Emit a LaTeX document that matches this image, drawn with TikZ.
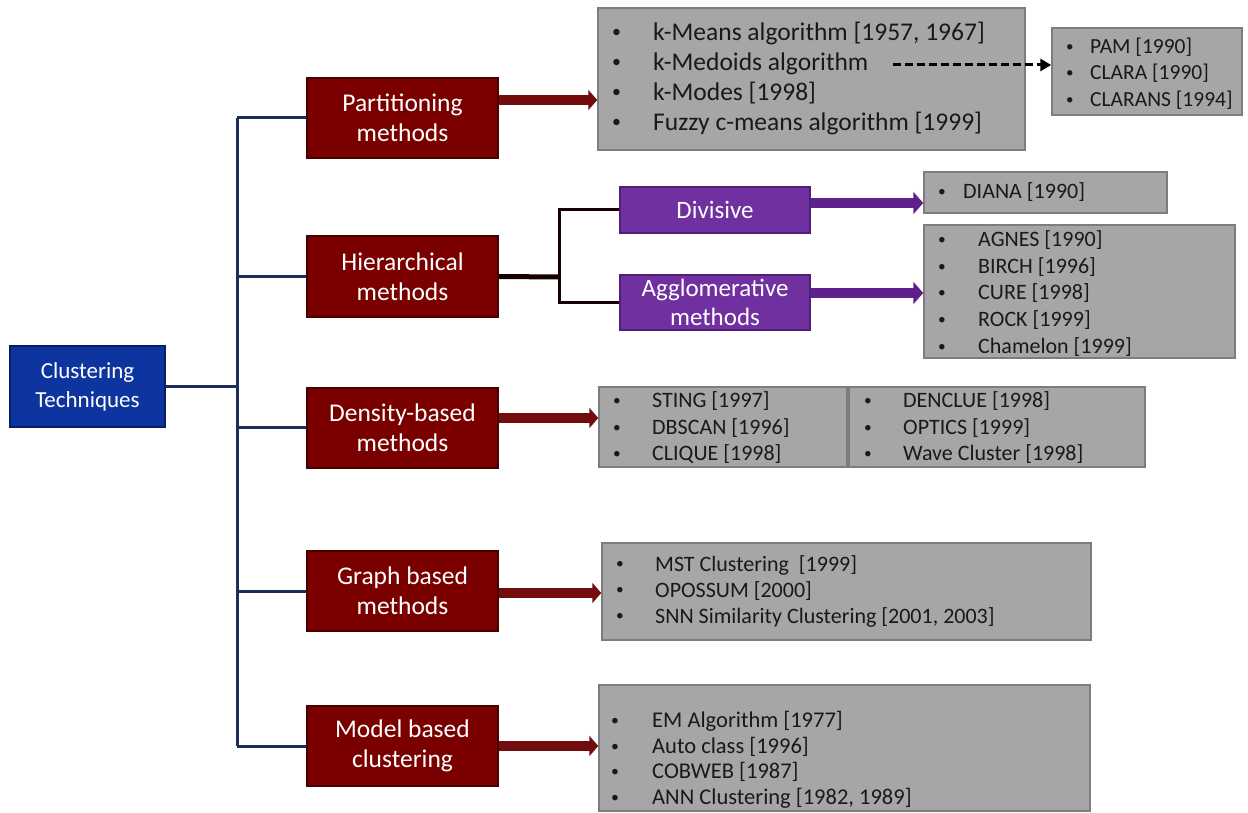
\documentclass[tikz,border=0pt]{standalone}
\usepackage{fontspec}
\setmainfont{Carlito}
\usepackage{tikz}
\usepackage{xcolor}
\usetikzlibrary{arrows.meta}

\definecolor{techblue}{RGB}{14,52,160}
\definecolor{techedge}{RGB}{10,30,100}
\definecolor{methodred}{RGB}{122,0,0}
\definecolor{methodedge}{RGB}{70,0,0}
\definecolor{subpurple}{RGB}{112,48,160}
\definecolor{subedge}{RGB}{80,30,120}
\definecolor{listgray}{RGB}{166,166,166}
\definecolor{listedge}{RGB}{125,125,125}
\definecolor{trunknavy}{RGB}{30,45,90}
\definecolor{arrowred}{RGB}{115,12,12}
\definecolor{arrowpurple}{RGB}{96,32,140}

\newcommand{\itm}[2]{\makebox[#1pt][l]{\raisebox{0.1em}{\scalebox{0.7}{\textbullet}}}#2}

\tikzset{
  techbox/.style={draw=techedge, fill=techblue, text=white, line width=2,
    minimum width=155, minimum height=81, align=center, inner sep=0,
    font=\fontsize{23}{29}\selectfont},
  methodbox/.style={draw=methodedge, fill=methodred, text=white, line width=2,
    minimum width=191, minimum height=80, align=center, inner sep=0,
    font=\fontsize{25.5}{30}\selectfont},
  subbox/.style={draw=subedge, fill=subpurple, text=white, line width=1.5,
    minimum width=190, align=center, inner sep=0,
    font=\fontsize{25}{29}\selectfont},
  graybox/.style={draw=listedge, fill=listgray, line width=1.5, inner sep=0},
  listtext/.style={anchor=west, align=left, inner sep=0, text=black!90},
  trunkline/.style={draw=trunknavy, line width=3},
  splitline/.style={draw=black!80!methodred, line width=3},
  redarrow/.style={draw=arrowred, line width=10, -{Triangle[length=9pt,width=20pt]}},
  purplearrow/.style={draw=arrowpurple, line width=10, -{Triangle[length=10pt,width=22pt]}},
  dasharrow/.style={draw=black, line width=3, dash pattern=on 8pt off 4pt,
    -{Triangle[length=11pt,width=12pt]}}
}

\begin{document}
\begin{tikzpicture}[x=1pt,y=-1pt]
  \useasboundingbox (0,0) rectangle (1248,813);

  % root and method boxes
  \node[techbox] (tech) at (87.5,386.5) {Clustering\\Techniques};
  \node[methodbox] (part) at (402.5,118) {Partitioning\\methods};
  \node[methodbox] (hier) at (402.5,276.5) {Hierarchical\\methods};
  \node[methodbox] (dens) at (402.5,427.5) {Density-based\\methods};
  \node[methodbox] (graph) at (402.5,591) {Graph based\\methods};
  \node[methodbox] (model) at (402.5,746) {Model based\\clustering};

  % trunk
  \coordinate (trunktop) at (237,118);
  \coordinate (trunkbot) at (237,746);
  \draw[trunkline] (trunktop) -- (trunkbot);
  \draw[trunkline] (tech.east) -- (tech.east -| trunktop);
  \foreach \m in {part,hier,dens,graph,model}
    \draw[trunkline] (\m.west) -- (\m.west -| trunktop);

  % partitioning
  \node[graybox, minimum width=427, minimum height=142] (partbox) at (811.5,79) {};
  \node[listtext, font=\fontsize{25.5}{30}\selectfont] (partlist) at (612,78)
    {\itm{41}{k-Means algorithm [1957, 1967]}\\
     \itm{41}{k-Medoids algorithm}\\
     \itm{41}{k-Modes [1998]}\\
     \itm{41}{Fuzzy c-means algorithm [1999]}};
  \node[graybox, minimum width=190, minimum height=87] (pambox) at (1147,71.5) {};
  \node[listtext, font=\fontsize{21.5}{26.5}\selectfont] (pamlist) at (1066,73.5)
    {\itm{24}{PAM [1990]}\\
     \itm{24}{CLARA [1990]}\\
     \itm{24}{CLARANS [1994]}};
  \draw[redarrow] ([yshift=18pt]part.east) -- ([yshift=18pt]part.east -| partbox.west);
  \coordinate (medoidsend) at (893,65);
  \draw[dasharrow] (medoidsend) -- (medoidsend -| pambox.west);

  % hierarchical
  \node[subbox, minimum height=46] (divisive) at (715,210) {Divisive};
  \node[subbox, minimum height=55] (agglo) at (715,302.5) {Agglomerative\\methods};
  \coordinate (split) at (559,277);
  \draw[splitline, line width=5] (hier.east) -- (split);
  \draw[splitline] (divisive.west) -| (split) |- (agglo.west);
  \node[graybox, minimum width=243, minimum height=41] (dianabox) at (1045.5,192.5) {};
  \node[listtext, font=\fontsize{22}{26.7}\selectfont] (dianalist) at (938,192)
    {\itm{25}{DIANA [1990]}};
  \node[graybox, minimum width=311, minimum height=133] (agnesbox) at (1079.5,291.5) {};
  \node[listtext, font=\fontsize{22}{26.7}\selectfont] (agneslist) at (938,293.5)
    {\itm{40}{AGNES [1990]}\\
     \itm{40}{BIRCH [1996]}\\
     \itm{40}{CURE [1998]}\\
     \itm{40}{ROCK [1999]}\\
     \itm{40}{Chamelon [1999]}};
  \draw[purplearrow] ([yshift=7pt]divisive.east) -- ([yshift=7pt]divisive.east -| dianabox.west);
  \draw[purplearrow] ([yshift=9.5pt]agglo.east) -- ([yshift=9.5pt]agglo.east -| agnesbox.west);

  % density based
  \node[graybox, minimum width=248, minimum height=80] (densleft) at (723,427) {};
  \node[graybox, minimum width=296, minimum height=80] (densright) at (997,427) {};
  \node[listtext, font=\fontsize{22}{26.5}\selectfont] (denslist) at (613,428)
    {\itm{39}{STING [1997]}\\
     \itm{39}{DBSCAN [1996]}\\
     \itm{39}{CLIQUE [1998]}};
  \node[listtext, font=\fontsize{22}{26.5}\selectfont] (denslist2) at (864,428)
    {\itm{39}{DENCLUE [1998]}\\
     \itm{39}{OPTICS [1999]}\\
     \itm{39}{Wave Cluster [1998]}};
  \draw[redarrow] ([yshift=9.5pt]dens.east) -- ([yshift=9.5pt]dens.east -| densleft.west);

  % graph based
  \node[graybox, minimum width=489, minimum height=97] (graphbox) at (846.5,591.5) {};
  \node[listtext, font=\fontsize{22}{26}\selectfont] (graphlist) at (616,591)
    {\itm{39}{MST Clustering\ \ [1999]}\\
     \itm{39}{OPOSSUM [2000]}\\
     \itm{39}{SNN Similarity Clustering [2001, 2003]}};
  \draw[redarrow] ([yshift=-2pt]graph.east) -- ([yshift=-2pt]graph.east -| graphbox.west);

  % model based
  \node[graybox, minimum width=491, minimum height=126] (modelbox) at (844.5,748) {};
  \node[listtext, font=\fontsize{22.5}{25.5}\selectfont] (modellist) at (611,760)
    {\itm{41}{EM Algorithm [1977]}\\
     \itm{41}{Auto class [1996]}\\
     \itm{41}{COBWEB [1987]}\\
     \itm{41}{ANN Clustering [1982, 1989]}};
  \draw[redarrow] (model.east) -- (model.east -| modelbox.west);
\end{tikzpicture}
\end{document}
